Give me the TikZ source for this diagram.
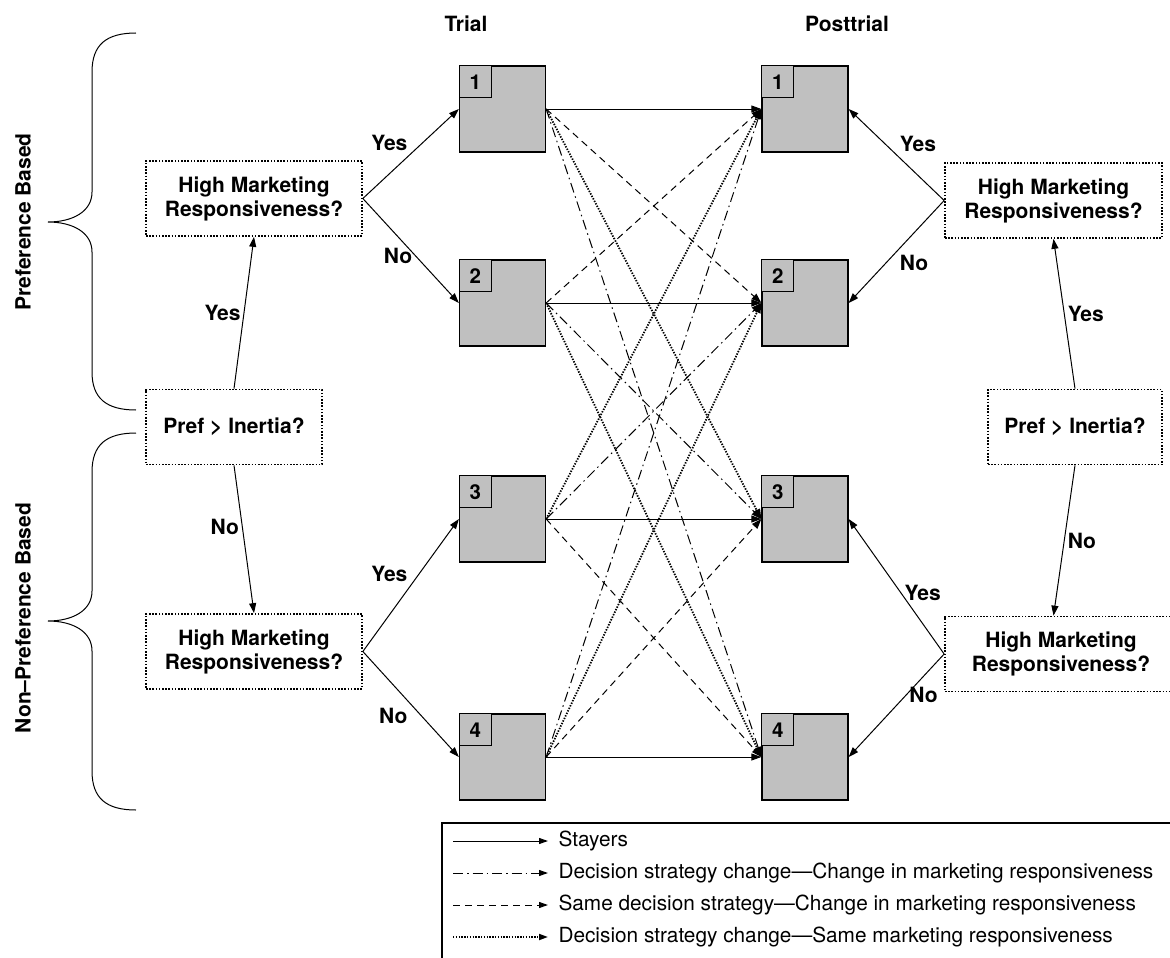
\documentclass[tikz,border=0pt]{standalone}
\usepackage{fontspec}
\setmainfont{TeX Gyre Heros}
\usetikzlibrary{arrows.meta}
\definecolor{boxgrey}{HTML}{C0C0C0}
\tikzset{
	query/.style={draw, line width=1.7pt, dash pattern=on 1.6pt off 1.6pt, align=center, minimum height=75pt, inner sep=2pt, font=\fontsize{21}{24}\selectfont\bfseries},
	stratbox/.style={draw, line width=1.3pt, fill=boxgrey, minimum size=86pt, inner sep=0pt},
	stratnum/.style={draw, line width=1.1pt, fill=boxgrey, minimum size=32pt, inner sep=0pt, anchor=north west, font=\fontsize{20.5}{20}\selectfont\bfseries},
	lbl/.style={inner sep=3pt, font=\fontsize{21}{24}\selectfont\bfseries},
	legtxt/.style={inner sep=0pt, anchor=west, font=\fontsize{20.8}{24}\selectfont},
	dsmr/.style={dash pattern=on 10pt off 4pt on 1.5pt off 4pt},
	samemr/.style={dash pattern=on 7pt off 5pt},
	dsonly/.style={line width=1.8pt, dash pattern=on 1.4pt off 1.4pt},
}
\begin{document}
\begin{tikzpicture}[x=1pt, y=-1pt, >={Triangle[length=10pt,width=7pt]}, line width=1pt]
	\useasboundingbox (0,0) rectangle (1170,958);
	\node[lbl] (trial) at (466,24) {Trial};
	\node[lbl] (posttrial) at (847,24) {Posttrial};
	\node[lbl, rotate=90] (prefbased) at (23,222) {Preference Based};
	\node[lbl, rotate=90] (nonprefbased) at (23,618) {Non--Preference Based};
	\draw (136,33) .. controls (106,33) and (92,45) .. (92,72) -- (92,192)
		.. controls (92,212) and (72,222) .. (48,222)
		.. controls (72,222) and (92,232) .. (92,252) -- (92,372)
		.. controls (92,398) and (106,410) .. (136,410);
	\draw (136,433) .. controls (106,433) and (92,445) .. (92,472) -- (92,591)
		.. controls (92,611) and (72,621) .. (48,621)
		.. controls (72,621) and (92,631) .. (92,651) -- (92,771)
		.. controls (92,798) and (106,810) .. (136,810);
	\node[stratbox] (t1) at (502.5,109) {};
	\node[stratbox] (t2) at (502.5,303) {};
	\node[stratbox] (t3) at (502.5,519) {};
	\node[stratbox] (t4) at (502.5,757) {};
	\node[stratbox] (p1) at (805,109) {};
	\node[stratbox] (p2) at (805,303) {};
	\node[stratbox] (p3) at (805,519) {};
	\node[stratbox] (p4) at (805,757) {};
	\node[stratnum] at (t1.north west) {1};
	\node[stratnum] at (t2.north west) {2};
	\node[stratnum] at (t3.north west) {3};
	\node[stratnum] at (t4.north west) {4};
	\node[stratnum] at (p1.north west) {1};
	\node[stratnum] at (p2.north west) {2};
	\node[stratnum] at (p3.north west) {3};
	\node[stratnum] at (p4.north west) {4};
	\node[query, minimum width=216pt] (hmrA) at (254,198.5) {High Marketing\\Responsiveness?};
	\node[query, minimum width=176pt] (prefA) at (234,427) {Pref > Inertia?};
	\node[query, minimum width=216pt] (hmrB) at (254,651.5) {High Marketing\\Responsiveness?};
	\node[query, minimum width=217pt] (hmrC) at (1053.5,200.5) {High Marketing\\Responsiveness?};
	\node[query, minimum width=174pt] (prefB) at (1075,427) {Pref > Inertia?};
	\node[query, minimum width=232pt] (hmrD) at (1061,654) {High Marketing\\Responsiveness?};
	\draw[->] (prefA.north) -- node[lbl, left] {Yes} (hmrA.south);
	\draw[->] (prefA.south) -- node[lbl, left, pos=.42] {No} (hmrA.south |- hmrB.north);
	\draw[->] (hmrA.east) -- node[lbl, above left] {Yes} (t1.west);
	\draw[->] (hmrA.east) -- node[lbl, left, pos=.55] {No} (t2.west);
	\draw[->] (hmrB.east) -- node[lbl, above left] {Yes} (t3.west);
	\draw[->] (hmrB.east) -- node[lbl, below left] {No} (t4.west);
	\draw[->] (prefB.north) -- node[lbl, right] {Yes} (hmrC.south);
	\draw[->] (prefB.south) -- node[lbl, right] {No} (hmrC.south |- hmrD.north);
	\draw[->] (hmrC.west) -- node[lbl, above right] {Yes} (p1.east);
	\draw[->] (hmrC.west) -- node[lbl, below right] {No} (p2.east);
	\draw[->] (hmrD.west) -- node[lbl, right, pos=.45] {Yes} (p3.east);
	\draw[->] (hmrD.west) -- node[lbl, right, pos=.4] {No} (p4.east);
	\draw[->] (t1.east) -- (p1.west);
	\draw[->] (t2.east) -- (p2.west);
	\draw[->] (t3.east) -- (p3.west);
	\draw[->] (t4.east) -- (p4.west);
	\draw[->, dsmr] (t1.east) -- (p4.west);
	\draw[->, dsmr] (t4.east) -- (p1.west);
	\draw[->, dsmr] (t2.east) -- (p3.west);
	\draw[->, dsmr] (t3.east) -- (p2.west);
	\draw[->, samemr] (t1.east) -- (p2.west);
	\draw[->, samemr] (t2.east) -- (p1.west);
	\draw[->, samemr] (t3.east) -- (p4.west);
	\draw[->, samemr] (t4.east) -- (p3.west);
	\draw[->, dsonly] (t1.east) -- (p3.west);
	\draw[->, dsonly] (t3.east) -- (p1.west);
	\draw[->, dsonly] (t2.east) -- (p4.west);
	\draw[->, dsonly] (t4.east) -- (p2.west);
	\draw[line width=1.2pt] (442,823) rectangle (1190,975);
	\coordinate (k1) at (453,841);
	\coordinate (k2) at (453,873);
	\coordinate (k3) at (453,905);
	\coordinate (k4) at (453,937);
	\node[legtxt] (stayers) at (558,841) {Stayers};
	\node[legtxt] (dschange) at (558,873) {Decision strategy change—Change in marketing responsiveness};
	\node[legtxt] (samechange) at (558,905) {Same decision strategy—Change in marketing responsiveness};
	\node[legtxt] (dssame) at (558,937) {Decision strategy change—Same marketing responsiveness};
	\begin{scope}[>={Triangle[length=9pt,width=6pt]}, shorten >=10pt]
		\draw[->] (k1) -- (stayers.west);
		\draw[->, dsmr] (k2) -- (dschange.west);
		\draw[->, samemr] (k3) -- (samechange.west);
		\draw[->, dsonly] (k4) -- (dssame.west);
	\end{scope}
\end{tikzpicture}
\end{document}
